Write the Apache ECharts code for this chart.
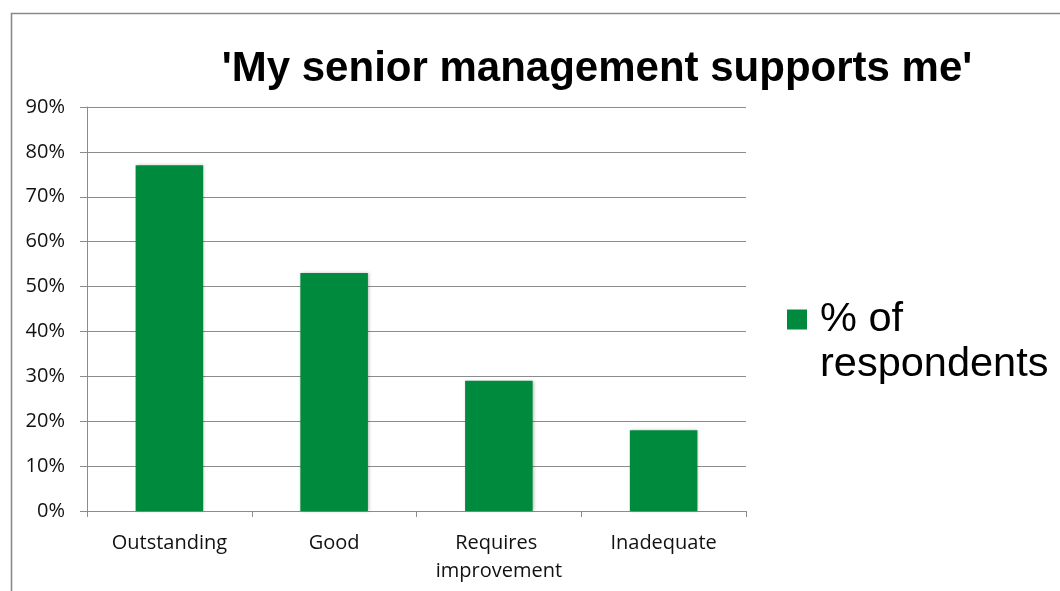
<!DOCTYPE html>
<html>
<head>
<meta charset="utf-8">
<script src="https://cdn.jsdelivr.net/npm/echarts@6/dist/echarts.min.js"></script>
<style>
  html, body { margin: 0; padding: 0; background: #fff; }
  #chart { width: 1060px; height: 591px; }
</style>
</head>
<body>
<div id="chart"></div>
<script>
// Survey answers: share of respondents per inspection grade
const chartTitle = "'My senior management supports me'";
const seriesName = '% of respondents';
const categories = ['Outstanding', 'Good', 'Requires improvement', 'Inadequate'];
const percentValues = [77, 53, 29, 18];
const yTicks = { min: 0, max: 90, step: 10 };

const green = '#008A3E';
const axisGrey = '#8c8c8c';
const labelFont = '"Open Sans", "Noto Sans", sans-serif';

// Square swatch on the left of a wider box, so the legend text sits a little further right
const swatchIcon = 'path://M0,0h20v20h-20z M28,10h0.01';

const chart = echarts.init(document.getElementById('chart'), null, { renderer: 'canvas' });

chart.setOption({
  animation: false,
  backgroundColor: '#ffffff',
  title: {
    text: chartTitle,
    left: 597,
    top: 48,
    padding: 0,
    textAlign: 'center',
    textStyle: {
      fontFamily: '"Liberation Sans", Arial, sans-serif',
      fontWeight: 'bold',
      fontSize: 42,
      color: '#000'
    }
  },
  legend: {
    data: [seriesName],
    left: 787,
    top: 252,
    padding: 0,
    icon: swatchIcon,
    itemWidth: 28,
    itemHeight: 20,
    // leading blank line keeps the swatch level with the first text line
    formatter: () => '\n% of\nrespondents',
    textStyle: {
      fontFamily: '"Liberation Sans", Arial, sans-serif',
      fontSize: 41.5,
      lineHeight: 45,
      color: '#000'
    }
  },
  grid: { left: 87, right: 314, top: 107, bottom: 80, containLabel: false },
  xAxis: {
    type: 'category',
    data: categories,
    axisLine: { show: true, lineStyle: { color: axisGrey, width: 1 } },
    axisTick: { show: true, length: 6, alignWithLabel: false, lineStyle: { color: axisGrey } },
    axisLabel: {
      interval: 0,
      margin: 18,
      width: 135,
      overflow: 'break',
      fontFamily: labelFont,
      fontSize: 20,
      lineHeight: 28,
      color: '#111'
    }
  },
  yAxis: {
    type: 'value',
    min: yTicks.min,
    max: yTicks.max,
    interval: yTicks.step,
    axisLine: { show: true, lineStyle: { color: axisGrey, width: 1 } },
    axisTick: { show: true, length: 7, lineStyle: { color: axisGrey } },
    splitLine: { show: true, lineStyle: { color: axisGrey, width: 1.2 } },
    axisLabel: {
      margin: 22,
      formatter: '{value}%',
      fontFamily: labelFont,
      fontSize: 20,
      color: '#111'
    }
  },
  series: [{
    name: seriesName,
    type: 'bar',
    data: percentValues,
    barCategoryGap: '59%',
    itemStyle: {
      color: green,
      shadowColor: 'rgba(0,0,0,0.25)',
      shadowBlur: 3,
      shadowOffsetX: 1,
      shadowOffsetY: 0
    }
  }],
  graphic: [{
    type: 'rect',
    silent: true,
    shape: { x: 11.5, y: 13.5, width: 1200, height: 800 },
    style: { fill: 'none', stroke: '#8a8a8a', lineWidth: 1.6 },
    z: -1
  }]
});
</script>
</body>
</html>
